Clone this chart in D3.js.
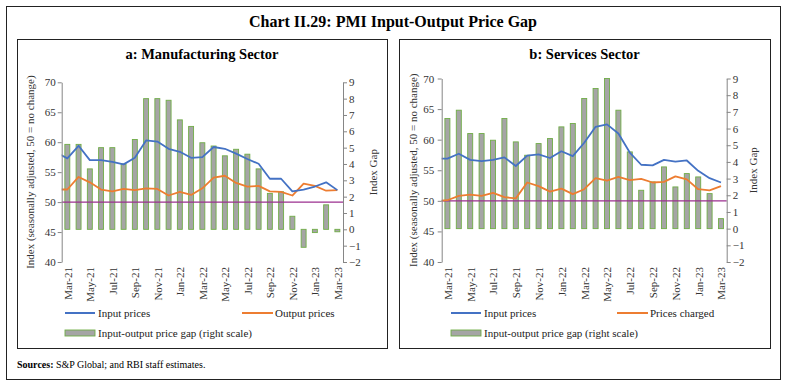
<!DOCTYPE html>
<html>
<head>
<meta charset="utf-8">
<script src="https://cdn.jsdelivr.net/npm/d3@7"></script>
<style>
  body { margin: 0; background: #fff; }
  text { font-family: "Liberation Serif", "Times New Roman", serif; }
</style>
</head>
<body>
<div id="chart"></div>
<script>
// category axis (bars)
const months = ["Mar-21","Apr-21","May-21","Jun-21","Jul-21","Aug-21","Sep-21","Oct-21","Nov-21","Dec-21",
                "Jan-22","Feb-22","Mar-22","Apr-22","May-22","Jun-22","Jul-22","Aug-22","Sep-22","Oct-22",
                "Nov-22","Dec-22","Jan-23","Feb-23","Mar-23"];
// the line series start one month earlier (Feb-21) and get clipped at the axis
const leadMonth = "Feb-21";

// a: manufacturing, Feb-21 .. Mar-23
const mfgInput  = [58.3, 57.3, 59.4, 57.0, 57.0, 56.7, 56.3, 57.4, 60.3, 60.1, 58.9, 58.4, 57.4,
                   57.5, 59.2, 58.9, 58.1, 57.2, 56.4, 53.9, 53.9, 51.8, 52.1, 52.6, 53.3, 52.0];
const mfgOutput = [52.1, 52.1, 54.2, 53.3, 52.1, 51.8, 52.2, 52.0, 52.3, 52.2, 51.1, 51.7, 51.2,
                   52.3, 54.1, 54.4, 53.2, 52.6, 52.7, 51.8, 51.7, 51.1, 53.1, 52.7, 51.9, 52.0];
// Mar-21 .. Mar-23
const mfgGap    = [5.2, 5.2, 3.7, 5.0, 5.0, 4.0, 5.5, 8.0, 8.0, 7.9, 6.7, 6.3, 5.3,
                   5.1, 4.5, 4.9, 4.6, 3.7, 2.2, 2.3, 0.8, -1.1, -0.2, 1.5, -0.15];

// b: services, Feb-21 .. Mar-23
const svcInput  = [56.9, 56.9, 57.7, 56.7, 56.5, 56.7, 57.1, 55.7, 57.4, 57.6, 57.0, 58.1, 57.3,
                   59.5, 62.1, 62.5, 61.0, 57.9, 55.9, 55.8, 56.7, 56.4, 56.6, 54.9, 53.7, 53.0];
const svcOutput = [50.0, 50.1, 50.8, 51.0, 50.8, 51.3, 50.6, 50.4, 53.0, 52.4, 51.5, 52.0, 51.1,
                   51.9, 53.7, 53.3, 53.9, 53.4, 53.6, 53.0, 53.1, 54.0, 53.5, 51.9, 51.7, 52.4];
// Mar-21 .. Mar-23
const svcGap    = [6.6, 7.1, 5.7, 5.7, 5.3, 6.6, 5.2, 4.4, 5.1, 5.4, 6.1, 6.3, 7.8,
                   8.4, 9.0, 7.1, 4.6, 2.3, 2.8, 3.7, 2.5, 3.3, 3.1, 2.1, 0.6];

const indexTicks = [40, 45, 50, 55, 60, 65, 70];
const gapTicks = [-2, -1, 0, 1, 2, 3, 4, 5, 6, 7, 8, 9];
const noChange = 50;

const width = 787, height = 386;
const blue = "#4472C4", orange = "#ED7D31", barFill = "#A5A5A5", barEdge = "#70AD47", purple = "#9B2F8F";

let svg = d3.select("#chart").append("svg")
    .attr("width", width)
    .attr("height", height);

svg.append("rect")
    .attr("x", 6.5).attr("y", 6.5)
    .attr("width", 774).attr("height", 373)
    .attr("fill", "none").attr("stroke", "#222");

svg.append("text")
    .attr("x", 393).attr("y", 27)
    .attr("text-anchor", "middle")
    .attr("font-size", 16).attr("font-weight", "bold")
    .text("Chart II.29: PMI Input-Output Price Gap");

let src = svg.append("text")
    .attr("x", 17).attr("y", 368)
    .attr("font-size", 10);
src.append("tspan").attr("font-weight", "bold").text("Sources: ");
src.append("tspan").text("S&P Global; and RBI staff estimates.");

function panel(o) {
    let g = svg.append("g");

    g.append("rect")
        .attr("x", o.box[0] + 0.5).attr("y", o.box[1] + 0.5)
        .attr("width", o.box[2] - o.box[0]).attr("height", o.box[3] - o.box[1])
        .attr("fill", "none").attr("stroke", "#222");

    g.append("text")
        .attr("x", (o.box[0] + o.box[2]) / 2).attr("y", 59)
        .attr("text-anchor", "middle")
        .attr("font-size", 14.5).attr("font-weight", "bold")
        .text(o.title);

    let x = d3.scaleLinear()
        .domain([-0.5, months.length - 0.5])
        .range([o.left, o.right]);
    let yL = d3.scaleLinear().domain([40, 70]).range([o.bottom, o.top]);
    let yR = d3.scaleLinear().domain([-2, 9]).range([o.bottom, o.top]);
    let step = x(1) - x(0);
    let bw = step * 0.44;

    // gap bars
    g.append("g")
        .selectAll("rect")
        .data(o.gap)
        .join("rect")
        .attr("x", (d, i) => x(i) - bw / 2)
        .attr("y", d => yR(Math.max(0, d)))
        .attr("width", bw)
        .attr("height", d => Math.abs(yR(d) - yR(0)))
        .attr("fill", barFill)
        .attr("stroke", barEdge)
        .attr("stroke-width", 0.9);

    // 50 = no change
    g.append("line")
        .attr("x1", o.left).attr("x2", o.right)
        .attr("y1", yL(noChange)).attr("y2", yL(noChange))
        .attr("stroke", purple).attr("stroke-width", 1.2);

    let clipId = "clip" + o.id;
    svg.append("clipPath").attr("id", clipId)
        .append("rect")
        .attr("x", o.left).attr("y", o.top - 10)
        .attr("width", o.right - o.left).attr("height", o.bottom - o.top + 20);

    // lines: index 0 is leadMonth, i.e. one step left of Mar-21
    let line = d3.line()
        .x((d, i) => x(i - 1))
        .y(d => yL(d));

    [[o.output, orange], [o.input, blue]].forEach(([vals, col]) => {
        g.append("path")
            .datum(vals)
            .attr("clip-path", `url(#${clipId})`)
            .attr("fill", "none")
            .attr("stroke", col)
            .attr("stroke-width", 1.8)
            .attr("stroke-linejoin", "round")
            .attr("d", line);
    });

    // axes
    let axL = g.append("g")
        .attr("transform", `translate(${o.left},0)`)
        .call(d3.axisLeft(yL).tickValues(indexTicks).tickSize(4).tickSizeOuter(0).tickPadding(o.padL));
    let axR = g.append("g")
        .attr("transform", `translate(${o.right},0)`)
        .call(d3.axisRight(yR).tickValues(gapTicks).tickSize(4).tickSizeOuter(0).tickPadding(2));
    let axB = g.append("g")
        .attr("transform", `translate(0,${o.bottom})`)
        .call(d3.axisBottom(x)
            .tickValues(d3.range(0, months.length, 2))
            .tickFormat(i => months[i])
            .tickSize(0));
    axB.select(".domain").remove();
    axB.selectAll("text")
        .attr("transform", "rotate(-90)")
        .attr("text-anchor", "end")
        .attr("x", -5).attr("y", 0)
        .attr("dy", "0.35em");

    [axL, axR, axB].forEach(a => {
        a.selectAll(".domain, .tick line").attr("stroke", "#868686");
        a.selectAll("text")
            .attr("font-family", "Liberation Serif, Times New Roman, serif")
            .attr("font-size", 11)
            .attr("fill", "#333");
    });

    // axis titles
    let mid = (o.top + o.bottom) / 2;
    g.append("text")
        .attr("transform", `translate(${o.titleL},${mid}) rotate(-90)`)
        .attr("text-anchor", "middle")
        .attr("font-size", 11).attr("fill", "#333")
        .text("Index (seasonally adjusted, 50 = no change)");
    g.append("text")
        .attr("transform", `translate(${o.titleR},${mid}) rotate(-90)`)
        .attr("text-anchor", "middle")
        .attr("font-size", 11).attr("fill", "#333")
        .text("Index Gap");

    // legend
    let lg = g.append("g").attr("font-size", 11).attr("fill", "#222");
    let row1 = 313, row2 = 333;
    lg.append("line").attr("x1", o.leg1).attr("x2", o.leg1 + 30)
        .attr("y1", row1).attr("y2", row1).attr("stroke", blue).attr("stroke-width", 2);
    lg.append("text").attr("x", o.leg1 + 33).attr("y", row1 + 4).text("Input prices");
    lg.append("line").attr("x1", o.leg2).attr("x2", o.leg2 + 31)
        .attr("y1", row1).attr("y2", row1).attr("stroke", orange).attr("stroke-width", 2);
    lg.append("text").attr("x", o.leg2 + 33).attr("y", row1 + 4).text(o.outputName);
    lg.append("rect").attr("x", o.leg1).attr("y", row2 - 3)
        .attr("width", 30).attr("height", 6)
        .attr("fill", barFill).attr("stroke", barEdge).attr("stroke-width", 0.9);
    lg.append("text").attr("x", o.leg1 + 33).attr("y", row2 + 4).text("Input-output price gap (right scale)");
}

panel({
    id: "a", title: "a: Manufacturing Sector",
    box: [17, 39, 387, 348],
    left: 61.7, right: 343, top: 82.3, bottom: 262,
    padL: 2, titleL: 34, titleR: 377,
    input: mfgInput, output: mfgOutput, gap: mfgGap,
    outputName: "Output prices", leg1: 65, leg2: 242
});

panel({
    id: "b", title: "b: Services Sector",
    box: [399, 39, 770, 348],
    left: 441.7, right: 726.7, top: 78.5, bottom: 262,
    padL: 3.5, titleL: 417, titleR: 757,
    input: svcInput, output: svcOutput, gap: svcGap,
    outputName: "Prices charged", leg1: 451, leg2: 617
});
</script>
</body>
</html>
